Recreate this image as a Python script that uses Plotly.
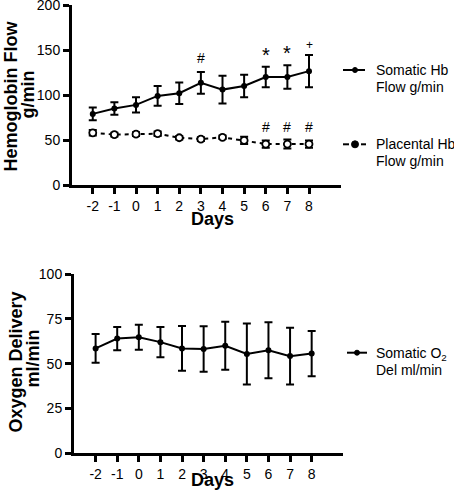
import plotly.graph_objects as go

# ---------------- data ----------------
days = [-2, -1, 0, 1, 2, 3, 4, 5, 6, 7, 8]
day_labels = ["-2", "-1", "0", "1", "2", "3", "4", "5", "6", "7", "8"]

somatic_hb = [79, 85, 89, 99, 102, 113.5, 106, 110, 120, 120, 126.5]
somatic_hb_err = [7, 7, 8.5, 11, 12, 12, 15.5, 12.5, 11.5, 13, 18]

placental_hb = [58, 56, 56.5, 57, 52.5, 51, 53, 49.5, 45.5, 45.5, 45.5]
placental_hb_err = [3, 2, 2, 2.5, 2, 2, 2, 4, 4, 5, 4]

somatic_o2 = [58.5, 64, 64.7, 62, 58.5, 58.2, 60, 55.4, 57.5, 54.2, 55.6]
somatic_o2_err = [8, 6.5, 7, 8.5, 12.5, 12.7, 13.4, 17, 15.6, 15.8, 12.6]

top_yticks = [0, 50, 100, 150, 200]
bot_yticks = [0, 25, 50, 75, 100]

# significance markers: (day, symbol)
sig_somatic = [(3, "#"), (6, "*"), (7, "*"), (8, "+")]
sig_placental = [(6, "#"), (7, "#"), (8, "#")]

W, H = 454, 498
FONT = "Liberation Sans, Arial, sans-serif"

# per-symbol style (font size, pixel shift above error-bar top)
sym_style = {"#": (14, 14), "*": (20, 12), "+": (12, 10)}


def px(x):
    return x / W


def py(y):
    return 1 - y / H


fig = go.Figure()

fig.add_trace(go.Scatter(
    x=days, y=somatic_hb, mode="lines+markers",
    line=dict(color="black", width=2),
    marker=dict(color="black", size=6),
    error_y=dict(type="data", array=somatic_hb_err, color="black", thickness=2, width=4),
    xaxis="x", yaxis="y", showlegend=False,
))
fig.add_trace(go.Scatter(
    x=days, y=placental_hb, mode="lines+markers",
    line=dict(color="black", width=2, dash="4px,4px"),
    marker=dict(color="white", size=7, line=dict(color="black", width=1.8)),
    error_y=dict(type="data", array=placental_hb_err, color="black", thickness=2, width=4),
    xaxis="x", yaxis="y", showlegend=False,
))
fig.add_trace(go.Scatter(
    x=days, y=somatic_o2, mode="lines+markers",
    line=dict(color="black", width=2),
    marker=dict(color="black", size=6),
    error_y=dict(type="data", array=somatic_o2_err, color="black", thickness=2, width=4),
    xaxis="x2", yaxis="y2", showlegend=False,
))

axis_common = dict(
    showgrid=False, zeroline=False, showline=True, linecolor="black", linewidth=3,
    ticks="outside", ticklen=6, tickwidth=2.5, tickcolor="black",
    tickfont=dict(family=FONT, size=14, color="black"), automargin=False,
    ticklabeloverflow="allow",
)

fig.update_layout(
    width=W, height=H,
    margin=dict(l=0, r=0, t=0, b=0, autoexpand=False),
    paper_bgcolor="white", plot_bgcolor="white",
    showlegend=False,
    xaxis=dict(domain=[px(72), px(341)], range=[-2.96, 9.48], anchor="y",
               tickvals=days, ticktext=day_labels, **axis_common),
    yaxis=dict(domain=[py(185), py(5)], range=[0, 200], anchor="x",
               tickvals=top_yticks, **axis_common),
    xaxis2=dict(domain=[px(74), px(343)], range=[-3.0, 9.45], anchor="y2",
                tickvals=days, ticktext=day_labels, **axis_common),
    yaxis2=dict(domain=[py(453.3), py(274)], range=[0, 100], anchor="x2",
                tickvals=bot_yticks, **axis_common),
)

ann = []
for series, errs, sigs, extra in [(somatic_hb, somatic_hb_err, sig_somatic, 0),
                                   (placental_hb, placental_hb_err, sig_placental, -1)]:
    for d, s in sigs:
        i = days.index(d)
        size, shift = sym_style[s]
        ann.append(dict(x=d, y=series[i] + errs[i], xref="x", yref="y",
                        text=s, showarrow=False, yanchor="middle", yshift=shift + extra,
                        font=dict(family=FONT, size=size, color="black")))

title_font = dict(family=FONT, size=18, color="black")
# rotated y-axis titles, one annotation per line for tight line spacing
for x, y, t in [(10.5, 96, "Hemoglobin Flow"), (27.5, 95, "g/min"),
                (15.5, 362, "Oxygen Delivery"), (32.5, 359, "ml/min")]:
    ann.append(dict(x=px(x), y=py(y), xref="paper", yref="paper", text="<b>%s</b>" % t,
                    textangle=-90, showarrow=False, xanchor="center", yanchor="middle",
                    font=title_font))
ann.append(dict(x=px(212), y=py(219), xref="paper", yref="paper", text="<b>Days</b>",
                showarrow=False, xanchor="center", yanchor="middle", font=title_font))
ann.append(dict(x=px(212), y=py(480), xref="paper", yref="paper", text="<b>Days</b>",
                showarrow=False, xanchor="center", yanchor="middle", font=title_font))

leg_font = dict(family=FONT, size=14, color="black")
legend_entries = [
    (70, ["Somatic Hb", "Flow g/min"]),
    (144.3, ["Placental Hb", "Flow g/min"]),
    (353.5, ["Somatic O<sub>2</sub>", "Del ml/min"]),
]
for yy, lines in legend_entries:
    for k, t in enumerate(lines):
        ann.append(dict(x=px(374), y=py(yy + 16.8 * k), xref="paper", yref="paper", text=t,
                        showarrow=False, xanchor="left", yanchor="middle", font=leg_font))

fig.update_layout(annotations=ann)

shapes = []


def seg(x0, x1, y):
    shapes.append(dict(type="line", xref="paper", yref="paper", x0=px(x0), x1=px(x1),
                       y0=py(y), y1=py(y), line=dict(color="black", width=2)))


def dot(x, y, r=2.5):
    shapes.append(dict(type="circle", xref="paper", yref="paper", x0=px(x - r), x1=px(x + r),
                       y0=py(y + r), y1=py(y - r), fillcolor="black", line=dict(color="black", width=1)))


seg(343, 365, 70)
dot(355, 70)
seg(343, 349, 144.3)
seg(361, 366, 144.3)
dot(355, 144.3, 3.5)
seg(347, 367, 352.7)
dot(357, 352.7)

fig.update_layout(shapes=shapes)

fig.write_html(
    "out.html",
    config={"displayModeBar": False},
    post_script="document.body.style.margin='0';document.body.style.padding='0';"
                "document.documentElement.style.margin='0';document.body.style.overflow='hidden';",
)
